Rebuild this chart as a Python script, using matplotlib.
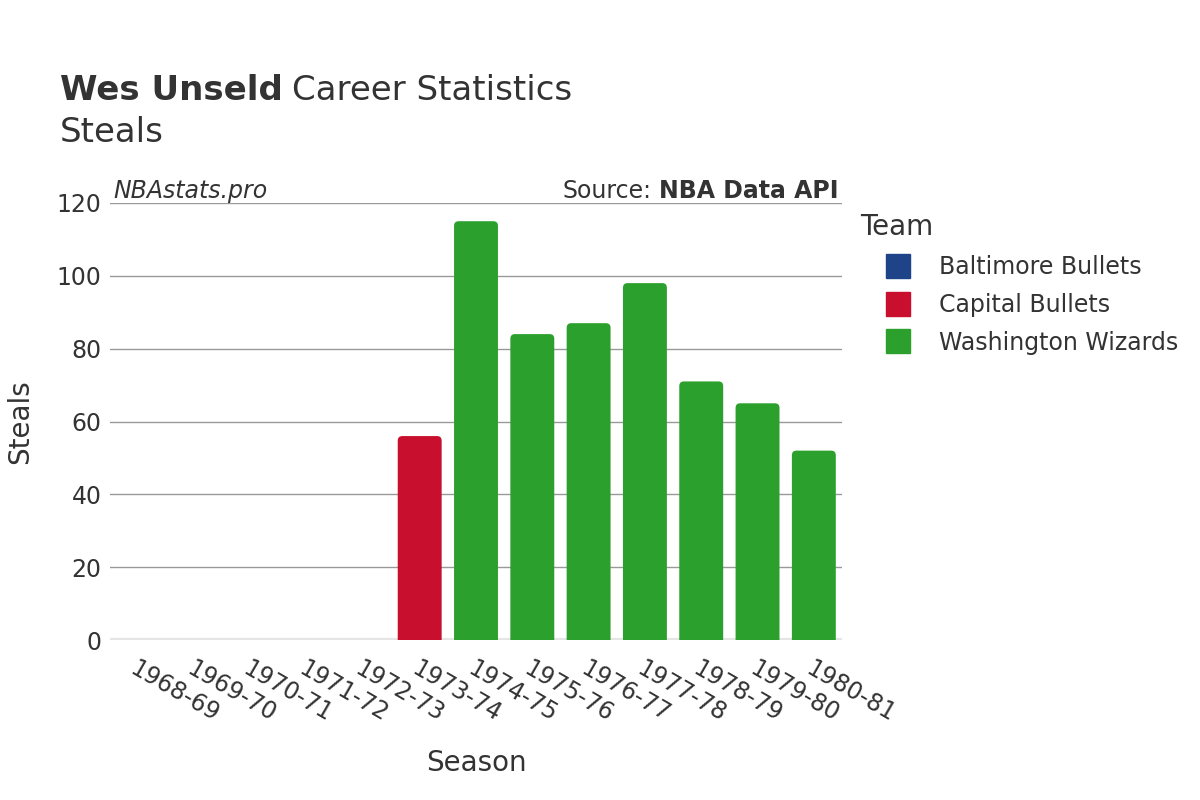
import matplotlib.pyplot as plt
import numpy as np
from matplotlib.patches import FancyBboxPatch
from matplotlib.lines import Line2D

seasons = ['1968-69', '1969-70', '1970-71', '1971-72', '1972-73', '1973-74', '1974-75',
           '1975-76', '1976-77', '1977-78', '1978-79', '1979-80', '1980-81']
teams = ['Baltimore Bullets', 'Capital Bullets', 'Washington Wizards']
team_colors = ['#1f4388', '#c8102e', '#2ca02c']
# team index per season, and steals
season_team = [0, 0, 0, 0, 0, 1, 2, 2, 2, 2, 2, 2, 2]
steals = [0, 0, 0, 0, 0, 56, 115, 84, 87, 98, 71, 65, 52]

plt.rcParams['font.family'] = ['DejaVu Sans']
fig = plt.figure(figsize=(12, 8), dpi=100)
ax = fig.add_axes([110 / 1200, 1 - 640 / 800, 732 / 1200, 437 / 800])

x = np.arange(len(seasons))
bar_width = 0.78
for i, (v, t) in enumerate(zip(steals, season_team)):
    if v <= 0:
        continue
    # start below zero so the rounded bottom corners get clipped by the axes
    patch = FancyBboxPatch((x[i] - bar_width / 2, -10), bar_width, v + 10,
                           boxstyle='round,pad=0,rounding_size=0.08',
                           mutation_aspect=16, linewidth=0,
                           facecolor=team_colors[t], zorder=3)
    ax.add_patch(patch)

ax.set_xlim(-0.5, len(seasons) - 0.5)
ax.set_ylim(0, 120)
ax.set_yticks(np.arange(0, 121, 20))
ax.yaxis.grid(True, color='#999999', linewidth=1)
ax.set_axisbelow(True)
for s in ax.spines.values():
    s.set_visible(False)
ax.axhline(0, color='#e5e5e5', linewidth=3, zorder=2)
ax.tick_params(axis='both', length=0, labelsize=17, colors='#333333', pad=6)
ax.set_xticks(x)
ax.set_xticklabels(seasons, rotation=-30, ha='left', rotation_mode='anchor')
ax.tick_params(axis='x', pad=12)

ax.set_xlabel('Season', fontsize=20, color='#333333', labelpad=16)
ax.set_ylabel('Steals', fontsize=20, color='#333333', labelpad=16)

t1 = fig.text(60 / 1200, 1 - 90 / 800, 'Wes Unseld', fontsize=24.5, color='#333333',
              va='center', fontweight='bold')
fig.canvas.draw()
bb = t1.get_window_extent()
fig.text(bb.x1 / 1200 + 0.008, 1 - 90 / 800, 'Career Statistics', fontsize=24.5, color='#333333', va='center')
fig.text(60 / 1200, 1 - 133 / 800, 'Steals', fontsize=24.5, color='#333333', va='center')

ax.text(0.005, 1.0, 'NBAstats.pro', transform=ax.transAxes, fontsize=17, style='italic',
        color='#333333', ha='left', va='bottom')
src = ax.text(0.995, 1.0, 'NBA Data API', transform=ax.transAxes, fontsize=17, fontweight='bold',
              color='#333333', ha='right', va='bottom')
fig.canvas.draw()
sb = src.get_window_extent()
fig.text(sb.x0 / 1200 - 0.006, sb.y0 / 800, 'Source:', fontsize=17, color='#333333',
         ha='right', va='bottom')

# legend title drawn separately so it can sit left of the markers
fig.text(860 / 1200, 1 - 227 / 800, 'Team', fontsize=20, color='#333333', va='center')
handles = [Line2D([0], [0], marker='s', linestyle='', markersize=17, markerfacecolor=c,
                  markeredgecolor=c) for c in team_colors]
leg = fig.legend(handles, teams, loc='upper left', bbox_to_anchor=(853 / 1200, 1 - 234 / 800),
                 frameon=False, fontsize=17, handletextpad=0.75, labelspacing=0.58)
for txt in leg.get_texts():
    txt.set_color('#333333')

fig.savefig('out.png', dpi=100)
